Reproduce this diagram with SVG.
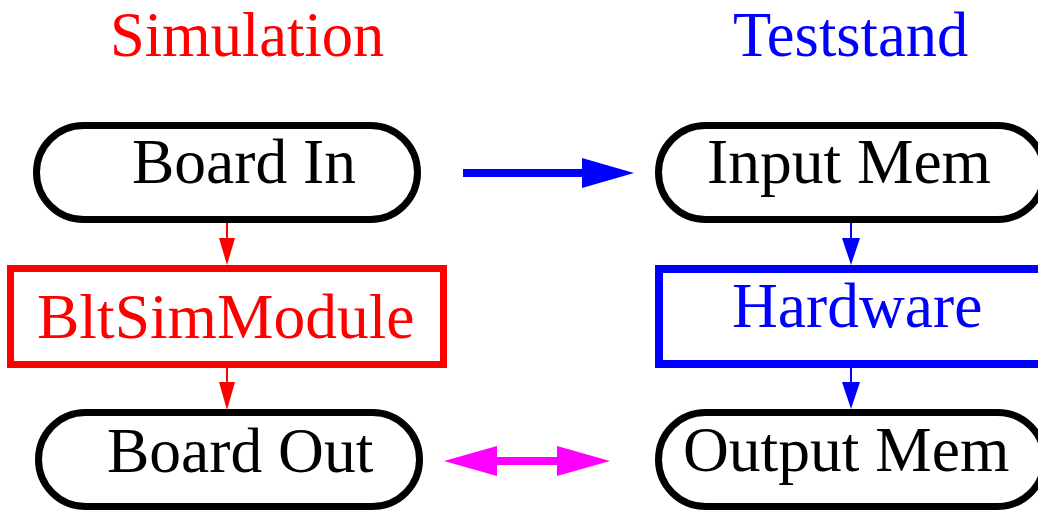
<svg xmlns="http://www.w3.org/2000/svg" width="1038" height="512" viewBox="0 0 1038 512">
<style>
text{font-family:"Liberation Serif","Times New Roman",serif;font-size:63.5px}
.title{font-size:62.5px}
.term{fill:#fff;stroke:#000;stroke-width:7}
.red{fill:#ff0000}
.blue{fill:#0000ff}
.blk{fill:#000}
</style>
<rect width="1038" height="512" fill="#fff"/>
<g id="titles">
<text class="red title" x="110" y="56">Simulation</text>
<text class="blue title" x="733" y="56">Teststand</text>
</g>
<g id="connectors">
<line x1="227" y1="223" x2="227" y2="240" stroke="#ff0000" stroke-width="2"/>
<polygon points="219,238 235,238 227,265" fill="#ff0000"/>
<line x1="227" y1="368" x2="227" y2="384" stroke="#ff0000" stroke-width="2"/>
<polygon points="219,382 235,382 227,410" fill="#ff0000"/>
<line x1="851" y1="223" x2="851" y2="240" stroke="#0000ff" stroke-width="2"/>
<polygon points="842,238 860,238 851,265" fill="#0000ff"/>
<line x1="851" y1="368" x2="851" y2="384" stroke="#0000ff" stroke-width="2"/>
<polygon points="842,382 860,382 851,409" fill="#0000ff"/>
<line x1="463" y1="173" x2="584" y2="173" stroke="#0000ff" stroke-width="8"/>
<polygon points="582,158 634,173 582,188" fill="#0000ff"/>
<line x1="495" y1="461" x2="559" y2="461" stroke="#ff00ff" stroke-width="8"/>
<polygon points="497,446 444,461 497,476" fill="#ff00ff"/>
<polygon points="557,446 610,461 557,476" fill="#ff00ff"/>
</g>
<g id="board-in">
<rect class="term" x="36.5" y="125.5" width="381" height="94" rx="47" ry="47"/>
<text class="blk" x="132" y="183">Board In</text>
</g>
<g id="bltsimmodule">
<rect x="10.5" y="268.5" width="433" height="96" fill="#fff" stroke="#ff0000" stroke-width="7"/>
<text class="red" x="37" y="338">BltSimModule</text>
</g>
<g id="board-out">
<rect class="term" x="38.5" y="412.5" width="381" height="94" rx="47" ry="47"/>
<text class="blk" x="107" y="472">Board Out</text>
</g>
<g id="input-mem">
<rect class="term" x="658.5" y="125.5" width="386" height="94" rx="47" ry="47"/>
<text class="blk" x="707" y="183">Input Mem</text>
</g>
<g id="hardware">
<rect x="659" y="269" width="388" height="95" fill="#fff" stroke="#0000ff" stroke-width="8"/>
<text class="blue" x="732" y="327">Hardware</text>
</g>
<g id="output-mem">
<rect class="term" x="658.5" y="412.5" width="386" height="94" rx="47" ry="47"/>
<text class="blk" x="683" y="471">Output Mem</text>
</g>
</svg>
